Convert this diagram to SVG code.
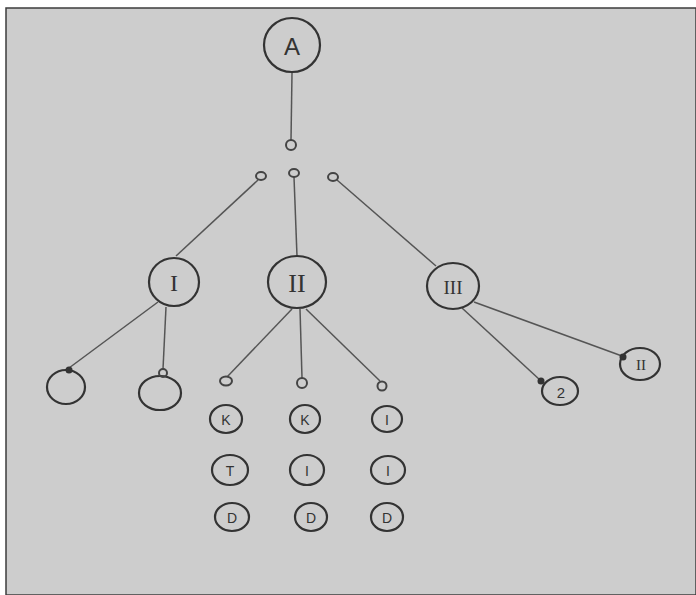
<svg xmlns="http://www.w3.org/2000/svg" width="696" height="595" viewBox="0 0 696 595">
<style>
.n{fill:none;stroke:#333;stroke-width:2.2}
.s{fill:none;stroke:#444;stroke-width:2}
.t{font-family:"Liberation Sans",Arial,sans-serif;fill:#333;text-anchor:middle;dominant-baseline:central}
.r{font-family:"Liberation Serif","Times New Roman",serif}
.c{stroke:#555;stroke-width:1.5;fill:none}
</style>
<rect x="0" y="0" width="696" height="595" fill="#ffffff"/>
<rect x="6" y="8" width="690" height="587" fill="#cdcdcd" stroke="#3c3c3c" stroke-width="1.5"/>
<g id="connectors">
<line class="c" x1="292" y1="73" x2="291" y2="140"/>
<line class="c" x1="258" y1="180" x2="176" y2="256"/>
<line class="c" x1="294" y1="177" x2="297" y2="256"/>
<line class="c" x1="337" y1="180" x2="436" y2="266"/>
<line class="c" x1="158" y1="302" x2="69" y2="368"/>
<line class="c" x1="166" y1="307" x2="163" y2="369"/>
<line class="c" x1="292" y1="309" x2="227" y2="377"/>
<line class="c" x1="300" y1="309" x2="302" y2="378"/>
<line class="c" x1="306" y1="309" x2="380" y2="381"/>
<line class="c" x1="462" y1="308" x2="540" y2="380"/>
<line class="c" x1="474" y1="302" x2="622" y2="356"/>
</g>
<g id="A"><ellipse class="n" cx="292" cy="45" rx="28" ry="27"/><text class="t" x="292" y="46" font-size="24">A</text></g>
<g id="j0"><circle class="s" cx="291" cy="145" r="5"/></g>
<g id="j1"><ellipse class="s" cx="261" cy="176" rx="5" ry="4"/></g>
<g id="j2"><ellipse class="s" cx="294" cy="173" rx="5" ry="4"/></g>
<g id="j3"><ellipse class="s" cx="333" cy="177" rx="5" ry="4"/></g>
<g id="I"><ellipse class="n" cx="174" cy="282" rx="25" ry="24"/><text class="t r" x="174" y="283" font-size="24">I</text></g>
<g id="II"><ellipse class="n" cx="297" cy="282" rx="29" ry="26"/><text class="t r" x="297" y="283" font-size="26">II</text></g>
<g id="III"><ellipse class="n" cx="453" cy="286" rx="26" ry="23"/><text class="t r" x="453" y="287" font-size="19">III</text></g>
<g id="I1"><ellipse class="n" cx="66" cy="387" rx="19" ry="17"/><circle cx="69" cy="370" r="3.5" fill="#333"/></g>
<g id="I2"><ellipse class="n" cx="160" cy="393" rx="21" ry="17"/><circle cx="163" cy="373" r="4" fill="none" stroke="#444" stroke-width="2"/></g>
<g id="j4"><ellipse class="s" cx="226" cy="381" rx="6" ry="4.5"/></g>
<g id="j5"><circle class="s" cx="302" cy="383" r="5"/></g>
<g id="j6"><circle class="s" cx="382" cy="386" r="4.5"/></g>
<g id="k1"><ellipse class="n" cx="226" cy="419" rx="16" ry="14"/><text class="t" x="226" y="420" font-size="14">K</text></g>
<g id="t1"><ellipse class="n" cx="230" cy="470" rx="18" ry="15"/><text class="t" x="230" y="471" font-size="14">T</text></g>
<g id="d1"><ellipse class="n" cx="232" cy="517" rx="17" ry="14"/><text class="t" x="232" y="518" font-size="14">D</text></g>
<g id="k2"><ellipse class="n" cx="305" cy="419" rx="15" ry="14"/><text class="t" x="305" y="420" font-size="14">K</text></g>
<g id="i2"><ellipse class="n" cx="307" cy="470" rx="17" ry="15"/><text class="t" x="307" y="471" font-size="14">I</text></g>
<g id="d2"><ellipse class="n" cx="311" cy="517" rx="16" ry="14"/><text class="t" x="311" y="518" font-size="14">D</text></g>
<g id="i3a"><ellipse class="n" cx="387" cy="419" rx="15" ry="13"/><text class="t" x="387" y="420" font-size="14">I</text></g>
<g id="i3b"><ellipse class="n" cx="388" cy="470" rx="17" ry="14"/><text class="t" x="388" y="471" font-size="14">I</text></g>
<g id="d3"><ellipse class="n" cx="387" cy="517" rx="16" ry="14"/><text class="t" x="387" y="518" font-size="14">D</text></g>
<g id="n2"><ellipse class="n" cx="560" cy="391" rx="18" ry="14"/><circle cx="541" cy="381" r="3.5" fill="#333"/><text class="t" x="561" y="392" font-size="15">2</text></g>
<g id="n11"><ellipse class="n" cx="640" cy="364" rx="20" ry="16"/><circle cx="623" cy="357" r="3.5" fill="#333"/><text class="t r" x="641" y="365" font-size="15">II</text></g>
</svg>
